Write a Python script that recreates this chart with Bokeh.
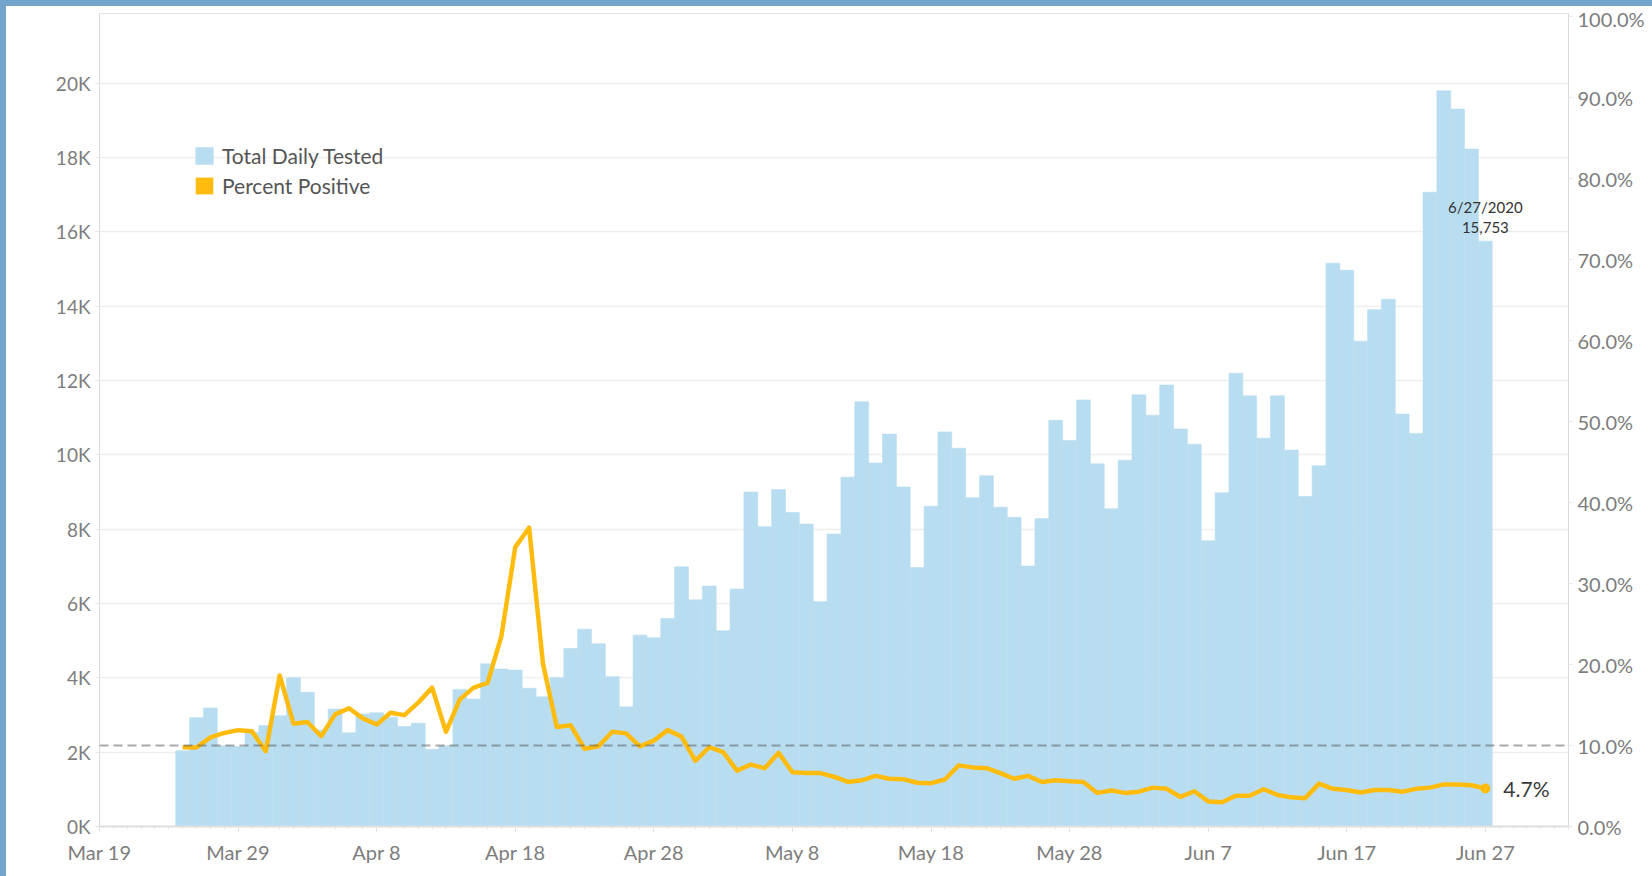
import pandas as pd
from bokeh.plotting import figure
from bokeh.layouts import column, row
from bokeh.models import (Range1d, LinearAxis, FixedTicker, PrintfTickFormatter, Span,
                          Legend, LegendItem, ColumnDataSource, Div)
from bokeh.embed import file_html
from bokeh.resources import INLINE
from bokeh.core.properties import value

# ---------------- data ----------------
first_date = "2020-03-25"
axis_origin = "2020-03-19"
axis_end = "2020-07-03"

total_tested = [
    2040, 2930, 3190, 2170, 2150, 2530, 2720, 2980, 4000, 3610,
    2600, 3160, 2520, 3030, 3060, 2940, 2690, 2780, 2080, 2170,
    3690, 3430, 4380, 4240, 4210, 3720, 3490, 4000, 4790, 5310,
    4920, 4030, 3220, 5150, 5080, 5600, 6990, 6100, 6470, 5270,
    6390, 9000, 8070, 9070, 8450, 8140, 6050, 7870, 9400, 11430,
    9780, 10560, 9140, 6970, 8620, 10620, 10180, 8850, 9440, 8590,
    8320, 7010, 8290, 10930, 10390, 11480, 9760, 8550, 9860, 11620,
    11070, 11880, 10700, 10290, 7690, 8980, 12200, 11590, 10450, 11590,
    10130, 8880, 9710, 15160, 14970, 13060, 13910, 14190, 11100, 10580,
    17070, 19800, 19310, 18230, 15753,
]

percent_positive = [
    9.8, 9.75, 11.0, 11.55, 11.9, 11.75, 9.3, 18.65, 12.7, 12.9,
    11.15, 13.85, 14.6, 13.35, 12.6, 14.05, 13.75, 15.3, 17.15, 11.7,
    15.7, 17.15, 17.75, 23.5, 34.5, 36.9, 20.1, 12.3, 12.5, 9.6,
    9.9, 11.7, 11.5, 9.9, 10.6, 11.9, 11.1, 8.1, 9.8, 9.2,
    6.9, 7.65, 7.2, 9.1, 6.7, 6.6, 6.6, 6.15, 5.5, 5.7,
    6.25, 5.9, 5.85, 5.4, 5.35, 5.8, 7.55, 7.3, 7.2, 6.6,
    5.9, 6.25, 5.5, 5.7, 5.6, 5.5, 4.15, 4.45, 4.15, 4.3,
    4.8, 4.65, 3.65, 4.35, 3.1, 3.0, 3.8, 3.8, 4.6, 3.9,
    3.6, 3.5, 5.3, 4.65, 4.5, 4.2, 4.5, 4.5, 4.3, 4.65,
    4.8, 5.2, 5.2, 5.1, 4.7,
]

x_tick_labels = ["Mar 19", "Mar 29", "Apr 8", "Apr 18", "Apr 28", "May 8",
                 "May 18", "May 28", "Jun 7", "Jun 17", "Jun 27"]
left_ticks = [0, 2000, 4000, 6000, 8000, 10000, 12000, 14000, 16000, 18000, 20000]
left_tick_labels = ["0K", "2K", "4K", "6K", "8K", "10K", "12K", "14K", "16K", "18K", "20K"]
right_ticks = [0, 10, 20, 30, 40, 50, 60, 70, 80, 90, 100]
reference_pct = 10.0

legend_labels = ["Total Daily Tested", "Percent Positive"]

# ---------------- derived ----------------
origin = pd.Timestamp(axis_origin)
dates = pd.date_range(first_date, periods=len(total_tested), freq="D")
day = [(d - origin).days for d in dates]
x_tick_days = [(pd.to_datetime(t + " 2020", format="%b %d %Y") - origin).days for t in x_tick_labels]
x_end = (pd.Timestamp(axis_end) - origin).days

src = ColumnDataSource(dict(day=day, tested=total_tested, pct=percent_positive))

BAR = "#b9ddf0"
ORANGE = "#ffbc0f"
LABEL = "#7d7d7d"
FRAME = "#73a4cc"
FONT = "Lato"
W, H = 1652, 876
EDGE = 6

p = figure(width=W - EDGE, height=H - EDGE, output_backend="svg", toolbar_location=None,
           x_range=Range1d(0, x_end), y_range=Range1d(0, 21880),
           min_border_left=99 - EDGE, min_border_right=84, min_border_top=13 - EDGE,
           min_border_bottom=50,
           background_fill_color="white", border_fill_color="white")
p.extra_y_ranges = {"pct": Range1d(0, 100.4)}

p.outline_line_color = "#e3e3e3"
p.xgrid.visible = False
p.ygrid.ticker = FixedTicker(ticks=left_ticks)
p.ygrid.grid_line_color = "#eeeeee"
p.ygrid.grid_line_width = 1.5

bars = p.vbar(x="day", top="tested", width=1, source=src, fill_color=BAR,
              line_color=BAR, line_width=0.6)
legend_swatch = p.vbar(x=[day[0]], top=[0], width=1, fill_color=ORANGE, line_color=None)

ref = Span(location=reference_pct, dimension="width", y_range_name="pct",
           line_color="#555555", line_alpha=0.5, line_dash="9 5", line_width=2)
p.add_layout(ref)

p.line(x="day", y="pct", source=src, y_range_name="pct", line_color=ORANGE, line_width=4.5,
       line_join="round")
p.scatter(x=[day[-1]], y=[percent_positive[-1]], y_range_name="pct", size=10,
          fill_color=ORANGE, line_color=None)

# labels
p.text(x=[day[-1]], y=[percent_positive[-1]], text=[f"{percent_positive[-1]:.1f}%"],
       y_range_name="pct", x_offset=18, text_baseline="middle", text_align="left",
       text_font=value(FONT), text_font_size="21px", text_color="#3a3a3a")
last = dates[-1]
p.text(x=[day[-1]], y=[total_tested[-1]],
       text=[f"{last.month}/{last.day}/{last.year}\n{total_tested[-1]:,}"],
       text_align="center", text_baseline="bottom", y_offset=-5, text_line_height=1.1,
       text_font=value(FONT), text_font_size="15px", text_color="#333333")

# axes
xa = p.xaxis[0]
xa.ticker = FixedTicker(ticks=x_tick_days, minor_ticks=list(range(0, x_end + 1)))
xa.major_label_overrides = {d: t for d, t in zip(x_tick_days, x_tick_labels)}
xa.axis_line_color = "#dedede"
xa.axis_line_width = 2
xa.major_tick_line_color = "#d6d6d6"
xa.major_tick_out = 5
xa.major_tick_in = 0
xa.minor_tick_line_color = "#e6e6e6"
xa.minor_tick_out = 3
xa.minor_tick_in = 0
xa.major_label_standoff = 8
xa.major_label_text_font = FONT
xa.major_label_text_font_size = "20px"
xa.major_label_text_color = LABEL

ya = p.yaxis[0]
ya.ticker = FixedTicker(ticks=left_ticks)
ya.major_label_overrides = {t: l for t, l in zip(left_ticks, left_tick_labels)}
ya.axis_line_color = "#d9d9d9"
ya.major_tick_line_color = "#e6e6e6"
ya.major_tick_out = 4
ya.major_tick_in = 0
ya.minor_tick_line_color = None
ya.major_label_standoff = 5
ya.major_label_text_font = FONT
ya.major_label_text_font_size = "19px"
ya.major_label_text_color = LABEL

ra = LinearAxis(y_range_name="pct", ticker=FixedTicker(ticks=right_ticks),
                formatter=PrintfTickFormatter(format="%.1f%%"))
ra.axis_line_color = "#d9d9d9"
ra.major_tick_line_color = "#e6e6e6"
ra.major_tick_out = 4
ra.major_tick_in = 0
ra.minor_tick_line_color = None
ra.major_label_standoff = 5
ra.major_label_text_font = FONT
ra.major_label_text_font_size = "20px"
ra.major_label_text_color = LABEL
p.add_layout(ra, "right")

legend = Legend(items=[LegendItem(label=legend_labels[0], renderers=[bars]),
                       LegendItem(label=legend_labels[1], renderers=[legend_swatch])],
                location=(94, 628), orientation="vertical",
                glyph_width=22, glyph_height=21, label_height=21, label_standoff=7,
                spacing=5, padding=0, margin=0,
                label_text_font=FONT, label_text_font_size="21px", label_text_color="#555555",
                border_line_color=None, background_fill_alpha=0)
p.add_layout(legend)

# dashboard frame: blue band on top and left
top_band = Div(text="", width=W, height=EDGE, margin=0,
               styles={"background-color": FRAME})
left_band = Div(text="", width=EDGE, height=H - EDGE, margin=0,
                styles={"background-color": FRAME})
page = column(top_band, row(left_band, p, spacing=0), spacing=0)

open("out.html", "w").write(file_html(page, INLINE))
